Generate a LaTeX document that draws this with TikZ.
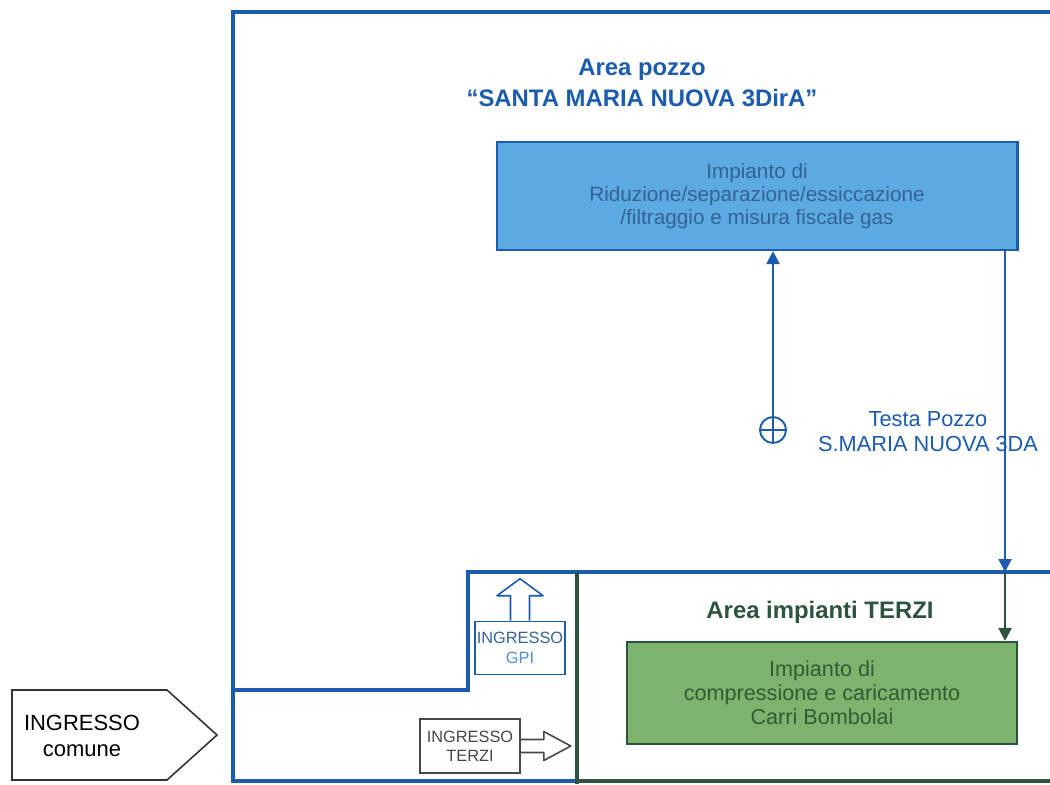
\documentclass[tikz,border=0pt]{standalone}
\usepackage{fontspec}
\setmainfont{Liberation Sans}
\usetikzlibrary{arrows.meta, positioning}
\definecolor{pozblue}{RGB}{28, 92, 175}
\definecolor{pozfill}{RGB}{92, 170, 226}
\definecolor{poztext}{RGB}{52, 98, 150}
\definecolor{gpiblue}{RGB}{80, 140, 215}
\definecolor{terdark}{RGB}{44, 84, 62}
\definecolor{terfill}{RGB}{124, 180, 110}
\definecolor{tertext}{RGB}{48, 92, 52}
\definecolor{ingrgrey}{RGB}{70, 70, 75}
\tikzset{
  wall/.style={pozblue, line width=2.2pt},
  plant/.style={draw, line width=1.2pt, align=center, inner sep=0pt},
  title/.style={align=center, font=\bfseries\fontsize{13.6}{17.6}\selectfont},
  ingr/.style={draw, line width=0.9pt, align=center, inner sep=0pt, font=\fontsize{9.3}{11}\selectfont},
  flow/.style={-{Triangle[length=2.6mm, width=2.6mm]}, line width=1.1pt}
}

\begin{document}
\begin{tikzpicture}[x=0.02cm, y=-0.02cm]
  \useasboundingbox (0,0) rectangle (1050,784);
  \draw[wall] (1050,12) -- (233,12) -- (233,781) -- (577,781);
  \draw[wall] (233,690) -- (468,690) -- (468,572) -- (1050,572);
  \draw[terdark, line width=2.2pt] (577,781) -- (1050,781);
  \draw[terdark, line width=1.8pt] (577,572) -- (577,784);

  \node[title, pozblue] (tpoz) at (642,83) {Area pozzo\\``SANTA MARIA NUOVA 3DirA''};
  \node[plant, draw=pozblue, fill=pozfill, text=poztext, font=\fontsize{11.8}{13}\selectfont,
    minimum width=10.42cm, minimum height=2.16cm] (trt) at (757,196)
    {Impianto di\\Riduzione/separazione/essiccazione\\/filtraggio e misura fiscale gas};
  \node[draw=pozblue, line width=1.1pt, circle, minimum size=0.52cm, inner sep=0pt] (wh) at (773,430) {};
  \draw[pozblue, line width=1.1pt] (wh.north) -- (wh.south) (wh.west) -- (wh.east);
  \node[pozblue, align=center, font=\fontsize{12.4}{14.2}\selectfont] (lwh) at (928,432) {Testa Pozzo\\S.MARIA NUOVA 3DA};

  \node[title, terdark] (tter) at (820,612) {Area impianti TERZI};
  \node[plant, draw=terdark, fill=terfill, text=tertext, font=\fontsize{12.3}{13.6}\selectfont,
    minimum width=7.8cm, minimum height=2.04cm] (cmp) at (822,693)
    {Impianto di\\compressione e caricamento\\Carri Bombolai};

  \coordinate (lim) at (1005,572);
  \draw[flow, pozblue] (wh) -- (wh |- trt.south);
  \draw[flow, pozblue] (trt.south -| lim) -- (lim);
  \draw[flow, terdark] (lim) -- (lim |- cmp.north);

  \node[ingr, draw=pozblue, text=poztext, minimum width=1.8cm, minimum height=1.06cm] (gpi) at (520,648)
    {INGRESSO\\\textcolor{gpiblue}{GPI}};
  \draw[pozblue, line width=0.9pt, line join=round] (gpi.north) ++(-9.5,0) -- ++(0,-25) -- ++(-13.5,0)
    -- ++(23,-17) -- ++(23,17) -- ++(-13.5,0) -- ++(0,25);
  \node[ingr, draw=ingrgrey, text=ingrgrey, minimum width=2cm, minimum height=1.08cm] (ter) at (470,746)
    {INGRESSO\\TERZI};
  \draw[ingrgrey, line width=0.9pt, line join=round] (ter.east) ++(0,-6.5) -- ++(23,0) -- ++(0,-8)
    -- ++(27,14.5) -- ++(-27,14.5) -- ++(0,-8) -- ++(-23,0);

  \node[align=center, font=\fontsize{12.5}{14.5}\selectfont] (com) at (82,736) {INGRESSO\\comune};
  \draw[line width=0.9pt, black!80] (12,690) -- (167,690) -- (217,735) -- (167,780) -- (12,780) -- cycle;
\end{tikzpicture}
\end{document}
